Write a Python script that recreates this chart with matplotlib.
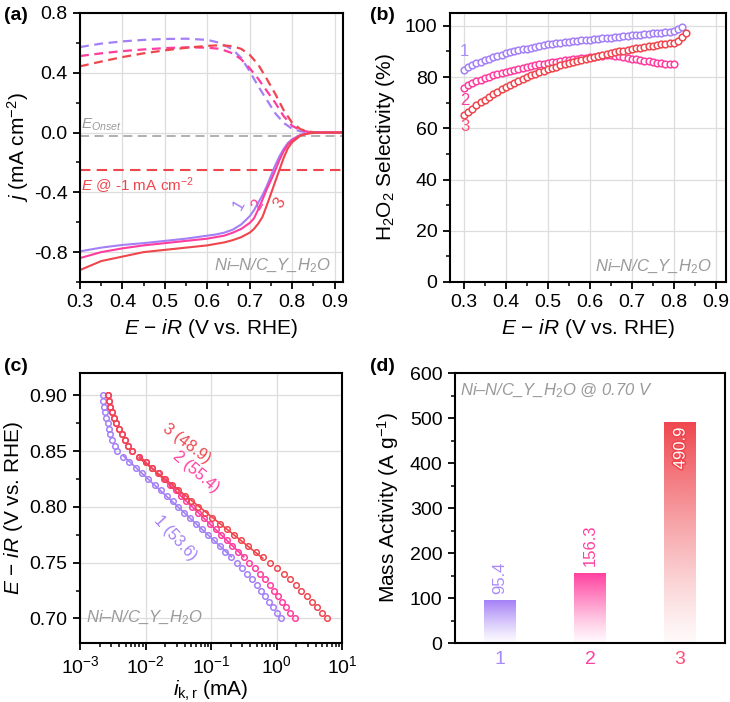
import numpy as np
import matplotlib
matplotlib.use("Agg")
import matplotlib.pyplot as plt
import matplotlib.patheffects as pe
from matplotlib.ticker import MultipleLocator, LogLocator, NullFormatter

plt.rcParams['font.family'] = ['Liberation Sans', 'DejaVu Sans']
plt.rcParams['mathtext.fontset'] = 'custom'
plt.rcParams['mathtext.rm'] = 'Liberation Sans'
plt.rcParams['mathtext.it'] = 'Liberation Sans:italic'
plt.rcParams['mathtext.bf'] = 'Liberation Sans:bold'
plt.rcParams['axes.unicode_minus'] = False

# ---------------- data ----------------
# (a) LSV: disk (solid) and ring (dashed)
E_disk = [0.30, 0.35, 0.40, 0.45, 0.50, 0.55, 0.60, 0.62, 0.64, 0.66, 0.68, 0.70, 0.71, 0.72, 0.73,
          0.74, 0.75, 0.76, 0.77, 0.78, 0.79, 0.80, 0.82, 0.84, 0.86, 0.92]
j_disk_1 = [-0.795, -0.77, -0.752, -0.74, -0.725, -0.71, -0.69, -0.682, -0.67, -0.65, -0.615, -0.56,
            -0.52, -0.47, -0.42, -0.36, -0.29, -0.22, -0.16, -0.11, -0.07, -0.045, -0.015, -0.003, 0.0, 0.0]
j_disk_2 = [-0.84, -0.80, -0.775, -0.755, -0.74, -0.725, -0.71, -0.70, -0.69, -0.67, -0.645, -0.605,
            -0.575, -0.515, -0.45, -0.38, -0.32, -0.255, -0.185, -0.125, -0.08, -0.05, -0.017, -0.004, 0.0, 0.0]
j_disk_3 = [-0.92, -0.86, -0.83, -0.80, -0.785, -0.77, -0.755, -0.745, -0.735, -0.72, -0.70, -0.67,
            -0.645, -0.61, -0.565, -0.49, -0.41, -0.33, -0.25, -0.17, -0.105, -0.065, -0.02, -0.005, 0.0, 0.0]

E_ring = [0.30, 0.35, 0.40, 0.45, 0.50, 0.55, 0.60, 0.63, 0.66, 0.68, 0.70, 0.72, 0.74, 0.76, 0.78, 0.80, 0.82, 0.84, 0.86, 0.92]
j_ring_1 = [0.572, 0.595, 0.610, 0.620, 0.626, 0.628, 0.620, 0.600, 0.555, 0.500, 0.410, 0.310, 0.220, 0.130, 0.065, 0.025, 0.008, 0.002, 0.0, 0.0]
j_ring_2 = [0.512, 0.530, 0.545, 0.556, 0.565, 0.570, 0.568, 0.560, 0.530, 0.490, 0.430, 0.360, 0.280, 0.200, 0.110, 0.045, 0.015, 0.004, 0.0, 0.0]
j_ring_3 = [0.443, 0.475, 0.505, 0.530, 0.550, 0.567, 0.580, 0.584, 0.578, 0.560, 0.520, 0.455, 0.360, 0.260, 0.150, 0.065, 0.022, 0.006, 0.0, 0.0]
j_onset = -0.02
j_half = -0.25

# (b) H2O2 selectivity
E_sel_1 = [round(0.30 + 0.01 * k, 2) for k in range(53)]
sel_1 = [82.9, 83.8, 84.6, 85.3, 86.0, 86.6, 87.2, 87.7, 88.2, 88.7, 89.2, 89.6, 90.0, 90.4, 90.8, 91.1,
         91.5, 91.8, 92.1, 92.4, 92.7, 92.9, 93.1, 93.4, 93.6, 93.8, 94.0, 94.1, 94.3, 94.5, 94.6, 94.8,
         94.9, 95.1, 95.3, 95.4, 95.6, 95.8, 95.9, 96.1, 96.3, 96.4, 96.6, 96.8, 96.9, 97.1, 97.2, 97.3,
         97.4, 97.6, 98.0, 98.7, 99.6]
E_sel_2 = [round(0.30 + 0.01 * k, 2) for k in range(51)]
sel_2 = [75.8, 76.7, 77.5, 78.3, 79.0, 79.6, 80.2, 80.7, 81.2, 81.6, 82.0, 82.4, 82.8, 83.2, 83.6, 83.9,
         84.3, 84.6, 84.9, 85.2, 85.5, 85.8, 86.0, 86.3, 86.5, 86.8, 87.0, 87.2, 87.4, 87.6, 87.8, 88.0,
         88.2, 88.4, 88.5, 88.5, 88.4, 88.2, 87.9, 87.6, 87.2, 86.9, 86.6, 86.4, 86.1, 85.9, 85.6, 85.4,
         85.2, 85.0, 84.9]
E_sel_3 = [round(0.30 + 0.01 * k, 2) for k in range(54)]
sel_3 = [65.0, 66.4, 67.7, 68.9, 70.1, 71.2, 72.3, 73.3, 74.3, 75.2, 76.1, 77.0, 77.8, 78.6, 79.3, 80.0,
         80.7, 81.3, 81.9, 82.5, 83.0, 83.6, 84.1, 84.6, 85.1, 85.5, 86.0, 86.4, 86.8, 87.2, 87.6, 88.0,
         88.4, 88.7, 89.0, 89.3, 89.7, 90.0, 90.3, 90.6, 90.9, 91.2, 91.5, 91.8, 92.0, 92.3, 92.5, 92.7,
         92.9, 93.1, 93.4, 94.2, 95.5, 97.0]

# (c) Tafel: E vs log10(i_k,r / mA)
E_tafel = [round(0.90 - 0.005 * k, 3) for k in range(41)]
logik_1 = [-2.654, -2.645, -2.633, -2.62, -2.60, -2.58, -2.56, -2.535, -2.505, -2.47, -2.43, -2.34, -2.245,
           -2.15, -2.055, -1.96, -1.86, -1.765, -1.67, -1.58, -1.50, -1.41, -1.32, -1.23, -1.14, -1.05,
           -0.96, -0.87, -0.78, -0.69, -0.61, -0.53, -0.45, -0.375, -0.305, -0.24, -0.175, -0.115, -0.055,
           0.005, 0.065]
logik_2 = [-2.568, -2.558, -2.540, -2.515, -2.485, -2.45, -2.41, -2.365, -2.315, -2.26, -2.20, -2.10, -2.0,
           -1.905, -1.81, -1.72, -1.63, -1.54, -1.46, -1.375, -1.295, -1.195, -1.10, -1.015, -0.93, -0.845,
           -0.76, -0.675, -0.59, -0.50, -0.415, -0.33, -0.25, -0.175, -0.105, -0.04, 0.02, 0.08, 0.145,
           0.21, 0.282]
logik_3 = [-2.568, -2.558, -2.540, -2.515, -2.485, -2.45, -2.41, -2.365, -2.315, -2.26, -2.20, -2.10, -2.0,
           -1.90, -1.80, -1.70, -1.60, -1.50, -1.40, -1.30, -1.20, -1.09, -0.98, -0.87, -0.76, -0.65,
           -0.54, -0.43, -0.32, -0.21, -0.10, 0.01, 0.11, 0.205, 0.295, 0.38, 0.46, 0.54, 0.62, 0.70, 0.776]
tafel_labels = ['1 (53.6)', '2 (55.4)', '3 (48.9)']

# (d) mass activity
samples = ['1', '2', '3']
mass_activity = [95.4, 156.3, 490.9]

colors = ['#A480F7', '#FF3D9E', '#EF464E']
tick_colors = ['#A98BF8', '#FF3FA0', '#FF4E78']
gray = '#9A9A9A'

# ---------------- figure ----------------
fig = plt.figure(figsize=(7.30, 7.02), dpi=100)
axA = fig.add_axes([0.1096, 0.5983, 0.3603, 0.3832])
axB = fig.add_axes([0.6164, 0.5983, 0.3781, 0.3832])
axC = fig.add_axes([0.1096, 0.0840, 0.3589, 0.3846])
axD = fig.add_axes([0.6233, 0.0840, 0.3699, 0.3846])

TFS = 14
LFS = 15


def style(ax, grid=True):
    for s in ax.spines.values():
        s.set_linewidth(1.5)
    ax.tick_params(which='major', direction='out', length=5, width=1.3, labelsize=TFS, pad=4)
    ax.tick_params(which='minor', direction='out', length=3, width=1.1)
    if grid:
        ax.grid(True, which='major', color='#DDDDDD', lw=0.9)
        ax.set_axisbelow(True)


# (a)
style(axA)
axA.axhline(j_onset, color='#AAAAAA', lw=1.3, ls=(0, (5, 3)))
axA.axhline(j_half, color=colors[2], lw=1.5, ls=(0, (5, 3)))
for jr, c in zip([j_ring_1, j_ring_2, j_ring_3], colors):
    axA.plot(E_ring, jr, color=c, lw=1.6, ls=(0, (4, 2.5)))
for jd, c in zip([j_disk_1, j_disk_2, j_disk_3], colors):
    axA.plot(E_disk, jd, color=c, lw=1.5)
axA.set_xlim(0.3, 0.92)
axA.xaxis.set_minor_locator(MultipleLocator(0.05))
axA.yaxis.set_minor_locator(MultipleLocator(0.2))
axA.set_xticks([0.3, 0.4, 0.5, 0.6, 0.7, 0.8, 0.9])
axA.set_xticklabels(['0.3', '0.4', '0.5', '0.6', '0.7', '0.8', '0.9'])
axA.set_yticks([-0.8, -0.4, 0.0, 0.4, 0.8])
axA.set_yticklabels(['-0.8', '-0.4', '0.0', '0.4', '0.8'])
axA.set_ylim(-1.0, 0.8)
axA.set_xlabel(r'$\mathit{E}$ − $\mathit{iR}$ (V vs. RHE)', fontsize=LFS, labelpad=4)
axA.set_ylabel(r'$\mathit{j}$ (mA cm$^{-2}$)', fontsize=LFS, labelpad=2)
axA.text(0.302, -0.005, r'$\mathit{E}_{\mathit{Onset}}$', color=gray, fontsize=11, va='bottom', ha='left')
axA.text(0.302, -0.285, r'$\mathit{E}$ @ -1 mA cm$^{-2}$', color=colors[2], fontsize=11, va='top', ha='left')
axA.text(0.892, -0.893, r'Ni–N/C_Y_H$_\mathit{2}$O', color=gray, fontsize=12, style='italic',
         ha='right', va='center')
for lab, x, y, c in zip(['1', '2', '3'], [0.676, 0.718, 0.770], [-0.48, -0.48, -0.47], colors):
    axA.text(x, y, lab, color=c, fontsize=12, rotation=60, ha='center', va='center')

# (b)
style(axB)
for E, s, c in zip([E_sel_1, E_sel_2, E_sel_3], [sel_1, sel_2, sel_3], colors):
    axB.plot(E, s, ls='none', marker='o', ms=4.8, mfc='white', mec=c, mew=1.1)
axB.set_xlim(0.267, 0.924)
axB.set_ylim(0, 105)
axB.set_xticks([0.3, 0.4, 0.5, 0.6, 0.7, 0.8, 0.9])
axB.set_xticklabels(['0.3', '0.4', '0.5', '0.6', '0.7', '0.8', '0.9'])
axB.xaxis.set_minor_locator(MultipleLocator(0.05))
axB.set_yticks([0, 20, 40, 60, 80, 100])
axB.yaxis.set_minor_locator(MultipleLocator(10))
axB.set_xlabel(r'$\mathit{E}$ − $\mathit{iR}$ (V vs. RHE)', fontsize=LFS, labelpad=4)
axB.set_ylabel(r'H$_2$O$_2$ Selectivity (%)', fontsize=LFS, labelpad=6)
axB.text(0.89, 5.8, r'Ni–N/C_Y_H$_\mathit{2}$O', color=gray, fontsize=12, style='italic',
         ha='right', va='center')
axB.text(0.302, 90.0, '1', color=tick_colors[0], fontsize=12, ha='center', va='center')
axB.text(0.302, 71.0, '2', color=tick_colors[1], fontsize=12, ha='center', va='center')
axB.text(0.302, 60.5, '3', color=tick_colors[2], fontsize=12, ha='center', va='center')

# (c)
style(axC)
logs = [logik_1, logik_2, logik_3]
for lg, c in zip(logs, colors):
    lg = np.asarray(lg)
    E = np.asarray(E_tafel)
    axC.plot(10 ** lg, E, ls='none', marker='o', ms=4.0, mfc='none', mec=c, mew=1.1)
    sel = (E <= 0.845) & (E >= 0.755)
    p = np.polyfit(lg[sel], E[sel], 1)
    xl = np.array([lg[sel].min(), lg[sel].max()])
    axC.plot(10 ** xl, np.polyval(p, xl), color=c, lw=1.2)
axC.set_xscale('log')
axC.set_xlim(1e-3, 1e1)
axC.set_ylim(0.678, 0.92)
axC.xaxis.set_major_locator(LogLocator(base=10, numticks=10))
axC.xaxis.set_minor_locator(LogLocator(base=10, subs=np.arange(2, 10), numticks=20))
axC.xaxis.set_minor_formatter(NullFormatter())
axC.set_yticks([0.70, 0.75, 0.80, 0.85, 0.90])
axC.set_yticklabels(['0.70', '0.75', '0.80', '0.85', '0.90'])
axC.yaxis.set_minor_locator(MultipleLocator(0.025))
axC.set_xlabel(r'$\mathit{i}_{\mathrm{k,r}}$ (mA)', fontsize=LFS, labelpad=1)
axC.set_ylabel(r'$\mathit{E}$ − $\mathit{iR}$ (V vs. RHE)', fontsize=LFS, labelpad=3)
axC.text(1.25e-3, 0.701, r'Ni–N/C_Y_H$_\mathit{2}$O', color=gray, fontsize=12, style='italic',
         ha='left', va='center')
for lab, xi, yi, c, rot in zip(tafel_labels, [0.029, 0.058, 0.043], [0.772, 0.831, 0.857],
                               colors, [-47, -40, -37]):
    axC.text(xi, yi, lab, color=c, fontsize=11.5, rotation=rot, ha='center', va='center')

# (d)
style(axD, grid=False)
x = np.arange(1, len(samples) + 1)
bars = axD.bar(x, mass_activity, width=0.35, color='none', edgecolor='none')
for b, c in zip(bars, colors):
    rgb = np.array(matplotlib.colors.to_rgb(c))
    n = 256
    t = np.linspace(1.0, 0.0, n)[:, None]  # top -> bottom
    img = np.ones((n, 2, 4))
    img[..., :3] = rgb
    img[..., 3] = (0.03 + 0.97 * t ** 1.2)
    xb, yb = b.get_x(), b.get_y()
    im = axD.imshow(img, extent=[xb, xb + b.get_width(), yb, yb + b.get_height()],
                    aspect='auto', origin='upper', zorder=2)
    im.set_clip_path(b)
axD.set_xlim(0.5, 3.5)
axD.set_ylim(0, 600)
axD.set_xticks(x)
axD.set_xticklabels(samples)
axD.tick_params(axis='x', length=0, pad=6)
for tl, c in zip(axD.get_xticklabels(), tick_colors):
    tl.set_color(c)
axD.yaxis.set_major_locator(MultipleLocator(100))
axD.yaxis.set_minor_locator(MultipleLocator(50))
axD.set_ylabel(r'Mass Activity (A g$^{-1}$)', fontsize=LFS, labelpad=6)
axD.text(0.56, 560, r'Ni–N/C_Y_H$_\mathit{2}$O @ 0.70 V', color=gray, fontsize=12, style='italic',
         ha='left', va='center')
axD.text(x[0], mass_activity[0] + 14, f'{mass_activity[0]:.1f}', rotation=90, color=tick_colors[0],
         fontsize=12, ha='center', va='bottom')
axD.text(x[1], mass_activity[1] + 14, f'{mass_activity[1]:.1f}', rotation=90, color=tick_colors[1],
         fontsize=12, ha='center', va='bottom')
axD.text(x[2], mass_activity[2] - 12, f'{mass_activity[2]:.1f}', rotation=90, color='white',
         fontsize=12, ha='center', va='top',
         path_effects=[pe.withStroke(linewidth=2.2, foreground=colors[2])])

# panel letters
for lab, fx, fy in [('(a)', 0.005, 0.978), ('(b)', 0.507, 0.978), ('(c)', 0.005, 0.478), ('(d)', 0.507, 0.478)]:
    fig.text(fx, fy, lab, fontsize=14, fontweight='bold', ha='left', va='center')

fig.savefig('out.png', dpi=100)
